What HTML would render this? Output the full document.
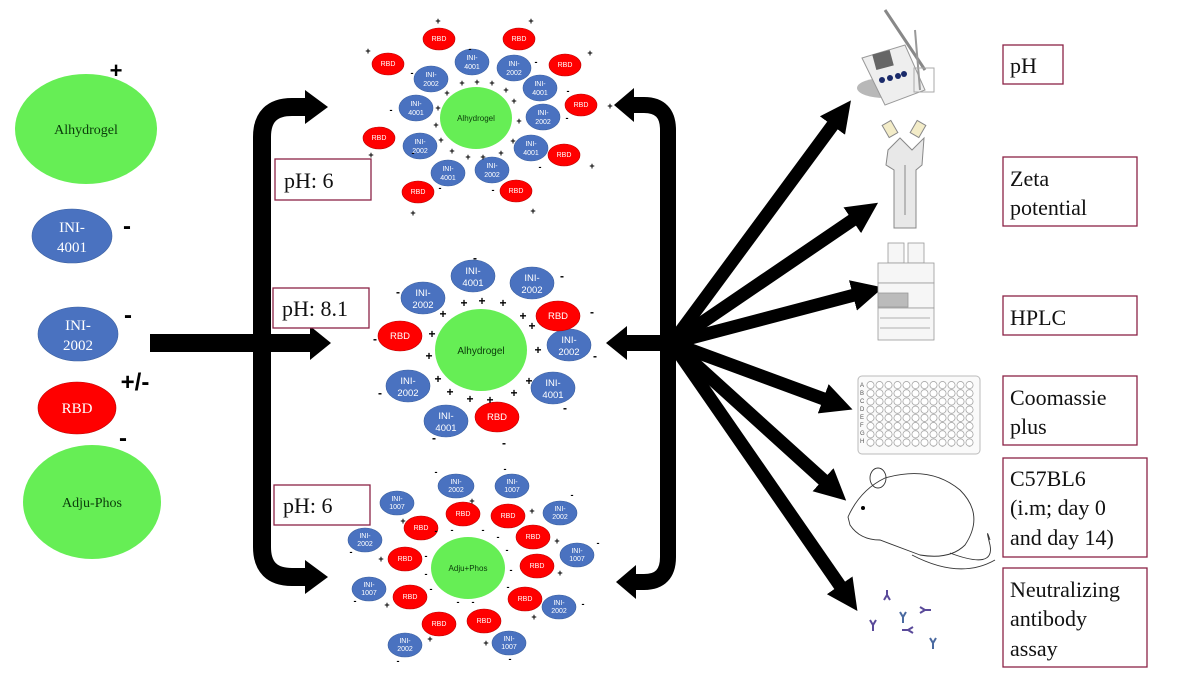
<!DOCTYPE html>
<html><head><meta charset="utf-8"><style>
html,body{margin:0;padding:0;background:#fff;}
svg{display:block;}
.box{fill:#fff;stroke:#8b2346;stroke-width:1.3;}
.bt{font-family:"Liberation Serif",serif;font-size:22px;fill:#111;}
.w7{font-family:"Liberation Sans",sans-serif;font-size:7px;fill:#fff;text-anchor:middle;}
.w9{font-family:"Liberation Sans",sans-serif;font-size:9.5px;fill:#fff;text-anchor:middle;}
.g{font-family:"Liberation Sans",sans-serif;fill:#0a3a0a;text-anchor:middle;}
.sg{font-family:"Liberation Sans",sans-serif;font-size:9px;fill:#000;text-anchor:middle;font-weight:bold;}
.lw{font-family:"Liberation Serif",serif;font-size:15px;fill:#fff;text-anchor:middle;}
.bl{fill:#4a72c0;stroke:#3a5f9f;stroke-width:0.6;}
.rd{fill:#ff0000;stroke:#b00;stroke-width:0.6;}
.gr{fill:#66ee55;}
</style></head><body>
<svg width="1200" height="675" viewBox="0 0 1200 675" xmlns="http://www.w3.org/2000/svg">
<defs>
<marker id="ah" viewBox="0 0 10 10" refX="3" refY="5" markerWidth="2.4" markerHeight="2.4" orient="auto" markerUnits="strokeWidth">
<path d="M0,0 L10,5 L0,10 z" fill="#000"/></marker>
<pattern id="wells" x="866" y="381" width="9" height="8.2" patternUnits="userSpaceOnUse">
<circle cx="4.5" cy="4.1" r="3.6" fill="#fff" stroke="#999" stroke-width="0.7"/></pattern>
</defs>

<!-- Left column -->
<ellipse class="gr" cx="86" cy="129" rx="71" ry="55"/>
<text class="g" x="86" y="134" font-size="14" style="font-family:'Liberation Serif',serif">Alhydrogel</text>
<text x="116" y="78" font-family="Liberation Sans" font-size="22" font-weight="bold" text-anchor="middle">+</text>
<ellipse class="bl" cx="72" cy="236" rx="40" ry="27"/>
<text class="lw" x="72" y="232">INI-</text><text class="lw" x="72" y="252">4001</text>
<text x="127" y="234" font-family="Liberation Sans" font-size="24" font-weight="bold" text-anchor="middle">-</text>
<ellipse class="bl" cx="78" cy="334" rx="40" ry="27"/>
<text class="lw" x="78" y="330">INI-</text><text class="lw" x="78" y="350">2002</text>
<text x="128" y="323" font-family="Liberation Sans" font-size="24" font-weight="bold" text-anchor="middle">-</text>
<ellipse class="rd" cx="77" cy="408" rx="39" ry="26"/>
<text class="lw" x="77" y="413">RBD</text>
<text x="135" y="390" font-family="Liberation Sans" font-size="24" font-weight="bold" text-anchor="middle">+/-</text>
<text x="123" y="446" font-family="Liberation Sans" font-size="24" font-weight="bold" text-anchor="middle">-</text>
<ellipse class="gr" cx="92" cy="502" rx="69" ry="57"/>
<text class="g" x="92" y="507" font-size="14" style="font-family:'Liberation Serif',serif">Adju-Phos</text>

<!-- Left bracket -->
<path d="M308 107 L292 107 Q262 107 262 137 L262 547 Q262 577 292 577 L308 577" fill="none" stroke="#000" stroke-width="18"/>
<polygon points="305,90 328,107 305,124" fill="#000"/>
<polygon points="305,560 328,577 305,594" fill="#000"/>
<rect x="150" y="334" width="162" height="18" fill="#000"/>
<polygon points="310,326 331,343 310,360" fill="#000"/>

<!-- pH boxes -->
<rect class="box" x="275" y="159" width="96" height="41"/><text class="bt" x="284" y="188">pH: 6</text>
<rect class="box" x="273" y="288" width="96" height="40"/><text class="bt" x="282" y="316">pH: 8.1</text>
<rect class="box" x="274" y="485" width="96" height="40"/><text class="bt" x="283" y="513">pH: 6</text>

<!-- Top cluster -->
<g>
<ellipse class="gr" cx="476" cy="118" rx="36" ry="31"/>
<text class="g" x="476" y="121" font-size="8">Alhydrogel</text>
<g class="rd">
<ellipse cx="439" cy="39" rx="16" ry="11"/><ellipse cx="519" cy="39" rx="16" ry="11"/>
<ellipse cx="388" cy="64" rx="16" ry="11"/><ellipse cx="565" cy="65" rx="16" ry="11"/>
<ellipse cx="581" cy="105" rx="16" ry="11"/><ellipse cx="379" cy="138" rx="16" ry="11"/>
<ellipse cx="564" cy="155" rx="16" ry="11"/><ellipse cx="418" cy="192" rx="16" ry="11"/>
<ellipse cx="516" cy="191" rx="16" ry="11"/></g>
<g class="w7">
<text x="439" y="41">RBD</text><text x="519" y="41">RBD</text><text x="388" y="66">RBD</text><text x="565" y="67">RBD</text>
<text x="581" y="107">RBD</text><text x="379" y="140">RBD</text><text x="564" y="157">RBD</text><text x="418" y="194">RBD</text><text x="516" y="193">RBD</text></g>
<g class="bl">
<ellipse cx="472" cy="62" rx="17" ry="13"/><ellipse cx="514" cy="68" rx="17" ry="13"/>
<ellipse cx="431" cy="79" rx="17" ry="13"/><ellipse cx="540" cy="88" rx="17" ry="13"/>
<ellipse cx="416" cy="108" rx="17" ry="13"/><ellipse cx="543" cy="117" rx="17" ry="13"/>
<ellipse cx="420" cy="146" rx="17" ry="13"/><ellipse cx="531" cy="148" rx="17" ry="13"/>
<ellipse cx="448" cy="173" rx="17" ry="13"/><ellipse cx="492" cy="170" rx="17" ry="13"/></g>
<g class="w7">
<text x="472" y="60">INI-</text><text x="472" y="69">4001</text>
<text x="514" y="66">INI-</text><text x="514" y="75">2002</text>
<text x="431" y="77">INI-</text><text x="431" y="86">2002</text>
<text x="540" y="86">INI-</text><text x="540" y="95">4001</text>
<text x="416" y="106">INI-</text><text x="416" y="115">4001</text>
<text x="543" y="115">INI-</text><text x="543" y="124">2002</text>
<text x="420" y="144">INI-</text><text x="420" y="153">2002</text>
<text x="531" y="146">INI-</text><text x="531" y="155">4001</text>
<text x="448" y="171">INI-</text><text x="448" y="180">4001</text>
<text x="492" y="168">INI-</text><text x="492" y="177">2002</text></g>
<g class="sg">
<text x="438" y="24">+</text><text x="531" y="24">+</text><text x="368" y="54">+</text><text x="590" y="56">+</text>
<text x="610" y="109">+</text><text x="371" y="158">+</text><text x="592" y="169">+</text><text x="413" y="216">+</text><text x="533" y="214">+</text>
<text x="462" y="86">+</text><text x="477" y="85">+</text><text x="492" y="86">+</text><text x="447" y="96">+</text><text x="506" y="93">+</text>
<text x="514" y="104">+</text><text x="438" y="111">+</text><text x="436" y="128">+</text><text x="519" y="124">+</text><text x="441" y="143">+</text>
<text x="452" y="154">+</text><text x="468" y="160">+</text><text x="483" y="160">+</text><text x="501" y="156">+</text><text x="513" y="144">+</text>
<text x="413" y="156">-</text><text x="391" y="113">-</text><text x="412" y="76">-</text><text x="470" y="52">-</text><text x="536" y="65">-</text>
<text x="568" y="94">-</text><text x="567" y="121">-</text><text x="540" y="170">-</text><text x="440" y="191">-</text><text x="493" y="193">-</text></g>
</g>

<!-- Middle cluster -->
<g>
<ellipse class="gr" cx="481" cy="350" rx="46" ry="41"/>
<text class="g" x="481" y="354" font-size="10">Alhydrogel</text>
<g class="bl">
<ellipse cx="473" cy="276" rx="22" ry="16"/><ellipse cx="532" cy="283" rx="22" ry="16"/>
<ellipse cx="423" cy="298" rx="22" ry="16"/><ellipse cx="569" cy="345" rx="22" ry="16"/>
<ellipse cx="408" cy="386" rx="22" ry="16"/><ellipse cx="553" cy="388" rx="22" ry="16"/>
<ellipse cx="446" cy="421" rx="22" ry="16"/></g>
<g class="w9">
<text x="473" y="274">INI-</text><text x="473" y="286">4001</text>
<text x="532" y="281">INI-</text><text x="532" y="293">2002</text>
<text x="423" y="296">INI-</text><text x="423" y="308">2002</text>
<text x="569" y="343">INI-</text><text x="569" y="355">2002</text>
<text x="408" y="384">INI-</text><text x="408" y="396">2002</text>
<text x="553" y="386">INI-</text><text x="553" y="398">4001</text>
<text x="446" y="419">INI-</text><text x="446" y="431">4001</text></g>
<g class="rd"><ellipse cx="558" cy="316" rx="22" ry="15"/><ellipse cx="400" cy="336" rx="22" ry="15"/><ellipse cx="497" cy="417" rx="22" ry="15"/></g>
<g class="w9"><text x="558" y="319">RBD</text><text x="400" y="339">RBD</text><text x="497" y="420">RBD</text></g>
<g class="sg" style="font-size:12px">
<text x="464" y="307">+</text><text x="482" y="305">+</text><text x="503" y="307">+</text><text x="523" y="320">+</text><text x="532" y="330">+</text>
<text x="443" y="318">+</text><text x="432" y="338">+</text><text x="429" y="360">+</text><text x="438" y="383">+</text><text x="450" y="396">+</text>
<text x="470" y="403">+</text><text x="490" y="404">+</text><text x="514" y="397">+</text><text x="529" y="385">+</text><text x="538" y="354">+</text>
<text x="375" y="343">-</text><text x="398" y="296">-</text><text x="475" y="262">-</text><text x="562" y="280">-</text><text x="592" y="316">-</text>
<text x="595" y="360">-</text><text x="380" y="397">-</text><text x="565" y="412">-</text><text x="434" y="442">-</text><text x="504" y="447">-</text></g>
</g>

<!-- Bottom cluster -->
<g>
<ellipse class="gr" cx="468" cy="568" rx="37" ry="31"/>
<text class="g" x="468" y="571" font-size="8">Adju+Phos</text>
<g class="bl">
<ellipse cx="456" cy="486" rx="18" ry="12"/><ellipse cx="512" cy="486" rx="17" ry="12"/>
<ellipse cx="397" cy="503" rx="17" ry="12"/><ellipse cx="560" cy="513" rx="17" ry="12"/>
<ellipse cx="365" cy="540" rx="17" ry="12"/><ellipse cx="577" cy="555" rx="17" ry="12"/>
<ellipse cx="369" cy="589" rx="17" ry="12"/><ellipse cx="559" cy="607" rx="17" ry="12"/>
<ellipse cx="405" cy="645" rx="17" ry="12"/><ellipse cx="509" cy="643" rx="17" ry="12"/></g>
<g class="w7">
<text x="456" y="484">INI-</text><text x="456" y="492">2002</text>
<text x="512" y="484">INI-</text><text x="512" y="492">1007</text>
<text x="397" y="501">INI-</text><text x="397" y="509">1007</text>
<text x="560" y="511">INI-</text><text x="560" y="519">2002</text>
<text x="365" y="538">INI-</text><text x="365" y="546">2002</text>
<text x="577" y="553">INI-</text><text x="577" y="561">1007</text>
<text x="369" y="587">INI-</text><text x="369" y="595">1007</text>
<text x="559" y="605">INI-</text><text x="559" y="613">2002</text>
<text x="405" y="643">INI-</text><text x="405" y="651">2002</text>
<text x="509" y="641">INI-</text><text x="509" y="649">1007</text></g>
<g class="rd">
<ellipse cx="463" cy="514" rx="17" ry="12"/><ellipse cx="508" cy="516" rx="17" ry="12"/>
<ellipse cx="421" cy="528" rx="17" ry="12"/><ellipse cx="533" cy="537" rx="17" ry="12"/>
<ellipse cx="405" cy="559" rx="17" ry="12"/><ellipse cx="537" cy="566" rx="17" ry="12"/>
<ellipse cx="410" cy="597" rx="17" ry="12"/><ellipse cx="525" cy="599" rx="17" ry="12"/>
<ellipse cx="439" cy="624" rx="17" ry="12"/><ellipse cx="484" cy="621" rx="17" ry="12"/></g>
<g class="w7">
<text x="463" y="516">RBD</text><text x="508" y="518">RBD</text><text x="421" y="530">RBD</text><text x="533" y="539">RBD</text>
<text x="405" y="561">RBD</text><text x="537" y="568">RBD</text><text x="410" y="599">RBD</text><text x="525" y="601">RBD</text>
<text x="439" y="626">RBD</text><text x="484" y="623">RBD</text></g>
<g class="sg">
<text x="472" y="504">+</text><text x="532" y="514">+</text><text x="403" y="524">+</text><text x="557" y="544">+</text><text x="381" y="562">+</text>
<text x="560" y="576">+</text><text x="387" y="608">+</text><text x="534" y="620">+</text><text x="430" y="642">+</text><text x="486" y="646">+</text>
<text x="436" y="534">-</text><text x="452" y="533">-</text><text x="483" y="533">-</text><text x="498" y="540">-</text><text x="507" y="553">-</text>
<text x="426" y="559">-</text><text x="426" y="577">-</text><text x="431" y="592">-</text><text x="458" y="605">-</text><text x="473" y="605">-</text>
<text x="508" y="590">-</text><text x="511" y="573">-</text><text x="436" y="475">-</text><text x="505" y="472">-</text><text x="572" y="498">-</text>
<text x="598" y="546">-</text><text x="351" y="555">-</text><text x="355" y="604">-</text><text x="583" y="607">-</text><text x="398" y="664">-</text><text x="510" y="662">-</text></g>
</g>

<!-- Right bracket -->
<path d="M632 105 L644 105 Q668 105 668 130 L668 557 Q668 582 644 582 L632 582" fill="none" stroke="#000" stroke-width="16"/>
<polygon points="634,88 614,105 634,122" fill="#000"/>
<polygon points="636,565 616,582 636,599" fill="#000"/>
<rect x="622" y="335" width="50" height="16" fill="#000"/>
<polygon points="627,326 606,343 627,360" fill="#000"/>

<!-- Fan arrows -->
<g stroke="#000" stroke-width="13" marker-end="url(#ah)" fill="none">
<line x1="672" y1="343" x2="838" y2="118"/>
<line x1="672" y1="343" x2="860" y2="215"/>
<line x1="672" y1="343" x2="862" y2="293"/>
<line x1="672" y1="343" x2="832" y2="402"/>
<line x1="672" y1="343" x2="830" y2="486"/>
<line x1="672" y1="343" x2="845" y2="593"/>
</g>

<!-- Icons -->
<g>
<ellipse cx="885" cy="88" rx="28" ry="10" fill="#b8b8b8"/>
<path d="M862 58 L905 45 L925 90 L885 105 Z" fill="#eee" stroke="#999"/>
<rect x="874" y="52" width="18" height="16" fill="#666" transform="rotate(-15 883 60)"/>
<circle cx="882" cy="80" r="3" fill="#1a2a6a"/><circle cx="890" cy="78" r="3" fill="#1a2a6a"/><circle cx="898" cy="76" r="3" fill="#1a2a6a"/><circle cx="904" cy="74" r="3" fill="#1a2a6a"/>
<line x1="885" y1="10" x2="925" y2="70" stroke="#888" stroke-width="3"/>
<line x1="915" y1="30" x2="920" y2="90" stroke="#999" stroke-width="2"/>
<rect x="914" y="68" width="20" height="24" fill="none" stroke="#aaa"/>
</g>
<g fill="#e8e8e8" stroke="#888" stroke-width="1">
<rect x="885" y="122" width="10" height="14" fill="#f3ecc8" transform="rotate(-30 890 129)"/>
<rect x="913" y="122" width="10" height="14" fill="#f3ecc8" transform="rotate(30 918 129)"/>
<path d="M888 150 L900 138 L912 150 L924 138 L922 165 L916 170 L916 228 L894 228 L894 170 L886 165 Z"/>
<line x1="905" y1="165" x2="905" y2="215"/>
</g>
<g fill="#f6f6f6" stroke="#999" stroke-width="0.8">
<rect x="888" y="243" width="16" height="20"/><rect x="908" y="243" width="16" height="20"/>
<rect x="878" y="263" width="56" height="20"/><rect x="878" y="283" width="56" height="25"/>
<rect x="878" y="293" width="30" height="14" fill="#bbb"/>
<rect x="878" y="308" width="56" height="32"/>
<line x1="880" y1="318" x2="930" y2="318"/><line x1="880" y1="328" x2="930" y2="328"/>
</g>
<g>
<rect x="858" y="376" width="122" height="78" rx="4" fill="#fafafa" stroke="#bbb"/>
<rect x="866" y="381" width="108" height="66" fill="url(#wells)"/>
<g font-family="Liberation Sans" font-size="6" fill="#555">
<text x="860" y="387">A</text><text x="860" y="395">B</text><text x="860" y="403">C</text><text x="860" y="411">D</text><text x="860" y="419">E</text><text x="860" y="427">F</text><text x="860" y="435">G</text><text x="860" y="443">H</text></g>
</g>
<g fill="none" stroke="#333" stroke-width="0.9">
<path d="M848 517 Q860 490 885 478 Q930 465 960 490 Q985 515 965 545 Q950 560 920 555 L880 540 Q860 540 850 525 Z" fill="#fff"/>
<ellipse cx="878" cy="478" rx="8" ry="10"/>
<path d="M950 553 Q995 570 990 545 Q985 525 990 540" />
<path d="M912 555 Q960 580 995 560"/>
</g>
<circle cx="863" cy="508" r="2" fill="#000"/>
<g stroke="#5a4a9a" stroke-width="2" fill="none">
<path d="M870 620 l3 5 l3 -5 M873 625 v6"/><path d="M884 600 l3 -5 l3 5 M887 595 v-5"/>
<path d="M900 612 l3 5 l3 -5 M903 617 v6" stroke="#4a6aa0"/><path d="M920 607 l5 3 l-5 3 M925 610 h6"/>
<path d="M913 627 l-5 3 l5 3 M908 630 h-6"/><path d="M930 638 l3 5 l3 -5 M933 643 v6" stroke="#4a6aa0"/>
</g>

<!-- Right boxes -->
<rect class="box" x="1003" y="45" width="60" height="39"/><text class="bt" x="1010" y="73">pH</text>
<rect class="box" x="1003" y="157" width="134" height="69"/><text class="bt" x="1010" y="186">Zeta</text><text class="bt" x="1010" y="215">potential</text>
<rect class="box" x="1003" y="296" width="134" height="39"/><text class="bt" x="1010" y="325">HPLC</text>
<rect class="box" x="1003" y="376" width="134" height="69"/><text class="bt" x="1010" y="405">Coomassie</text><text class="bt" x="1010" y="434">plus</text>
<rect class="box" x="1003" y="458" width="144" height="99"/><text class="bt" x="1010" y="486">C57BL6</text><text class="bt" x="1010" y="515">(i.m; day 0</text><text class="bt" x="1010" y="545">and day 14)</text>
<rect class="box" x="1003" y="568" width="144" height="99"/><text class="bt" x="1010" y="597">Neutralizing</text><text class="bt" x="1010" y="626">antibody</text><text class="bt" x="1010" y="656">assay</text>
</svg>
</body></html>
